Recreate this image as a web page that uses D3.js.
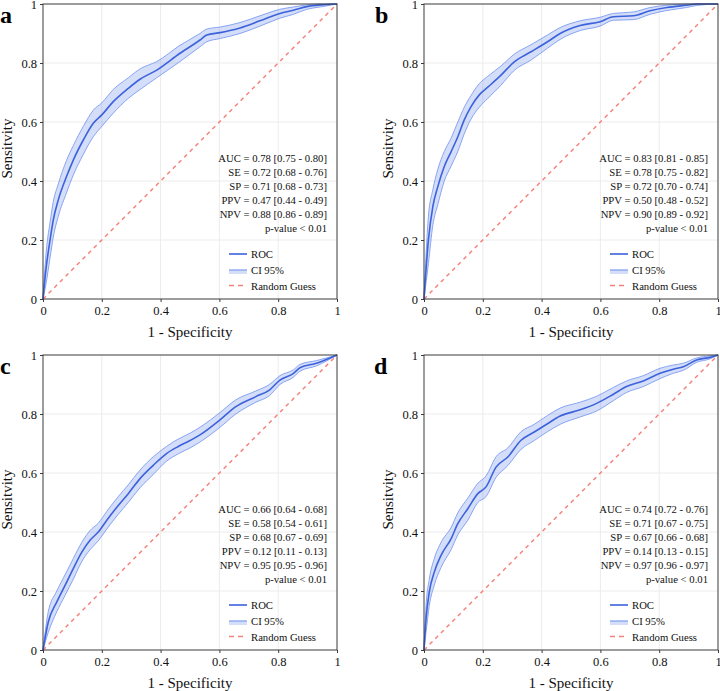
<!DOCTYPE html>
<html>
<head>
<meta charset="utf-8">
<script src="https://cdn.jsdelivr.net/npm/d3@7"></script>
<style>
  html, body { margin: 0; padding: 0; background: #fff; }
  svg, svg text { font-family: "Liberation Serif", "Times New Roman", Times, "DejaVu Serif", serif !important; }
</style>
</head>
<body>
<svg id="chart" width="720" height="691"></svg>
<script>
// ---------- DATA ----------
const panelLetters = ["a", "b", "c", "d"];
const tickValues = [0, 0.2, 0.4, 0.6, 0.8, 1];
const tickLabels = ["0", "0.2", "0.4", "0.6", "0.8", "1"];
const legendLabels = ["ROC", "CI 95%", "Random Guess"];
const xTitle = "1 - Specificity";
const yTitle = "Sensitvity";

// Panel a
const fprA = [0, 0.01, 0.024, 0.035, 0.052, 0.08, 0.103, 0.137, 0.171, 0.2, 0.239, 0.29, 0.33, 0.387, 0.466, 0.534, 0.557, 0.603, 0.67, 0.738, 0.806, 0.852, 0.897, 0.943, 1];
const tprA = [0, 0.1, 0.2, 0.268, 0.336, 0.415, 0.471, 0.539, 0.596, 0.624, 0.669, 0.714, 0.745, 0.776, 0.833, 0.878, 0.895, 0.903, 0.919, 0.943, 0.968, 0.979, 0.991, 0.997, 1];
const lowA = [0, 0.05, 0.14, 0.21, 0.28, 0.36, 0.42, 0.49, 0.55, 0.585, 0.63, 0.68, 0.71, 0.75, 0.805, 0.855, 0.872, 0.883, 0.9, 0.925, 0.952, 0.965, 0.982, 0.99, 1];
const upA = [0, 0.15, 0.26, 0.33, 0.39, 0.47, 0.52, 0.585, 0.64, 0.665, 0.71, 0.75, 0.78, 0.805, 0.86, 0.9, 0.915, 0.922, 0.937, 0.96, 0.982, 0.99, 0.997, 1, 1];
const statsA = ["AUC = 0.78 [0.75 - 0.80]", "SE = 0.72 [0.68 - 0.76]", "SP = 0.71 [0.68 - 0.73]", "PPV = 0.47 [0.44 - 0.49]", "NPV = 0.88 [0.86 - 0.89]", "p-value < 0.01"];

// Panel b
const fprB = [0, 0.015, 0.03, 0.047, 0.069, 0.092, 0.115, 0.137, 0.16, 0.188, 0.217, 0.262, 0.307, 0.364, 0.42, 0.463, 0.531, 0.599, 0.644, 0.712, 0.769, 0.826, 0.893, 0.927, 1];
const tprB = [0, 0.2, 0.313, 0.381, 0.449, 0.499, 0.55, 0.607, 0.652, 0.692, 0.718, 0.759, 0.804, 0.838, 0.872, 0.9, 0.927, 0.94, 0.957, 0.96, 0.977, 0.988, 0.996, 1, 1];
const lowB = [0, 0.12, 0.25, 0.32, 0.4, 0.45, 0.5, 0.56, 0.61, 0.65, 0.68, 0.725, 0.775, 0.81, 0.85, 0.88, 0.91, 0.925, 0.945, 0.947, 0.965, 0.978, 0.988, 0.995, 1];
const upB = [0, 0.28, 0.37, 0.44, 0.5, 0.545, 0.6, 0.65, 0.69, 0.73, 0.755, 0.79, 0.83, 0.862, 0.895, 0.92, 0.943, 0.955, 0.968, 0.973, 0.988, 0.996, 1, 1, 1];
const statsB = ["AUC = 0.83 [0.81 - 0.85]", "SE = 0.78 [0.75 - 0.82]", "SP = 0.72 [0.70 - 0.74]", "PPV = 0.50 [0.48 - 0.52]", "NPV = 0.90 [0.89 - 0.92]", "p-value < 0.01"];

// Panel c
const fprC = [0, 0.018, 0.047, 0.075, 0.103, 0.132, 0.16, 0.188, 0.217, 0.256, 0.29, 0.33, 0.375, 0.42, 0.46, 0.5, 0.534, 0.602, 0.656, 0.724, 0.77, 0.806, 0.852, 0.874, 0.93, 1];
const tprC = [0, 0.095, 0.163, 0.219, 0.276, 0.332, 0.372, 0.4, 0.44, 0.49, 0.53, 0.581, 0.626, 0.666, 0.69, 0.71, 0.729, 0.78, 0.825, 0.859, 0.881, 0.915, 0.938, 0.957, 0.972, 1];
const lowC = [0, 0.06, 0.13, 0.185, 0.24, 0.3, 0.34, 0.37, 0.41, 0.46, 0.5, 0.55, 0.595, 0.64, 0.665, 0.685, 0.705, 0.755, 0.8, 0.84, 0.862, 0.9, 0.925, 0.945, 0.963, 1];
const upC = [0, 0.13, 0.2, 0.255, 0.31, 0.365, 0.405, 0.43, 0.47, 0.52, 0.56, 0.61, 0.655, 0.69, 0.715, 0.735, 0.755, 0.805, 0.848, 0.878, 0.9, 0.93, 0.95, 0.968, 0.981, 1];
const statsC = ["AUC = 0.66 [0.64 - 0.68]", "SE = 0.58 [0.54 - 0.61]", "SP = 0.68 [0.67 - 0.69]", "PPV = 0.12 [0.11 - 0.13]", "NPV = 0.95 [0.95 - 0.96]", "p-value < 0.01"];

// Panel d
const fprD = [0, 0.007, 0.018, 0.035, 0.058, 0.092, 0.115, 0.149, 0.183, 0.211, 0.245, 0.285, 0.33, 0.375, 0.42, 0.463, 0.531, 0.587, 0.644, 0.689, 0.746, 0.803, 0.848, 0.882, 0.927, 0.973, 1];
const tprD = [0, 0.106, 0.197, 0.264, 0.321, 0.377, 0.428, 0.479, 0.53, 0.553, 0.62, 0.654, 0.711, 0.739, 0.767, 0.793, 0.814, 0.836, 0.867, 0.893, 0.912, 0.938, 0.952, 0.96, 0.983, 0.992, 1];
const lowD = [0, 0.06, 0.15, 0.22, 0.28, 0.34, 0.39, 0.44, 0.5, 0.52, 0.585, 0.625, 0.68, 0.71, 0.74, 0.765, 0.79, 0.81, 0.845, 0.873, 0.893, 0.92, 0.938, 0.948, 0.975, 0.987, 1];
const upD = [0, 0.15, 0.24, 0.31, 0.365, 0.415, 0.465, 0.515, 0.565, 0.59, 0.655, 0.685, 0.74, 0.765, 0.795, 0.82, 0.84, 0.86, 0.89, 0.912, 0.93, 0.955, 0.966, 0.972, 0.99, 0.997, 1];
const statsD = ["AUC = 0.74 [0.72 - 0.76]", "SE = 0.71 [0.67 - 0.75]", "SP = 0.67 [0.66 - 0.68]", "PPV = 0.14 [0.13 - 0.15]", "NPV = 0.97 [0.96 - 0.97]", "p-value < 0.01"];

// ---------- LAYOUT / STYLE ----------
const panels = [
  { letter: panelLetters[0], fpr: fprA, tpr: tprA, low: lowA, up: upA, stats: statsA, left: 43, top: 4, lx: 0 },
  { letter: panelLetters[1], fpr: fprB, tpr: tprB, low: lowB, up: upB, stats: statsB, left: 424, top: 4, lx: 375 },
  { letter: panelLetters[2], fpr: fprC, tpr: tprC, low: lowC, up: upC, stats: statsC, left: 43, top: 355, lx: 0 },
  { letter: panelLetters[3], fpr: fprD, tpr: tprD, low: lowD, up: upD, stats: statsD, left: 424, top: 355, lx: 374 }
];
const W = 294, H = 295;
const FONT = "'Liberation Serif', 'Times New Roman', Times, 'DejaVu Serif', serif";
const rocColor = "#3c62dc";
const bandFill = "rgba(65,105,225,0.22)";
const bandEdge = "#7d9cf0";
const guessColor = "#f4827c";
const gridColor = "#ececec";
const axisColor = "#3a3a3a";

const svg = d3.select("#chart").attr("font-family", FONT);

panels.forEach(p => {
  const x = d3.scaleLinear().domain([0, 1]).range([0, W]);
  const y = d3.scaleLinear().domain([0, 1]).range([H, 0]);
  const g = svg.append("g").attr("transform", `translate(${p.left},${p.top})`);

  // grid
  g.append("g").selectAll("line").data(tickValues.slice(1, -1)).join("line")
    .attr("x1", d => x(d)).attr("x2", d => x(d)).attr("y1", 0).attr("y2", H)
    .attr("stroke", gridColor).attr("stroke-width", 1);
  g.append("g").selectAll("line").data(tickValues.slice(1, -1)).join("line")
    .attr("y1", d => y(d)).attr("y2", d => y(d)).attr("x1", 0).attr("x2", W)
    .attr("stroke", gridColor).attr("stroke-width", 1);

  const pts = p.fpr.map((f, i) => ({ f, t: p.tpr[i], lo: p.low[i], hi: p.up[i] }));

  // random guess
  g.append("line")
    .attr("x1", x(0)).attr("y1", y(0)).attr("x2", x(1)).attr("y2", y(1))
    .attr("stroke", guessColor).attr("stroke-width", 1.5).attr("stroke-dasharray", "4,4");

  // CI band
  g.append("path").datum(pts)
    .attr("d", d3.area().curve(d3.curveMonotoneX).x(d => x(d.f)).y0(d => y(d.lo)).y1(d => y(d.hi)))
    .attr("fill", bandFill).attr("stroke", "none");
  g.append("path").datum(pts)
    .attr("d", d3.line().curve(d3.curveMonotoneX).x(d => x(d.f)).y(d => y(d.lo)))
    .attr("fill", "none").attr("stroke", bandEdge).attr("stroke-width", 0.9);
  g.append("path").datum(pts)
    .attr("d", d3.line().curve(d3.curveMonotoneX).x(d => x(d.f)).y(d => y(d.hi)))
    .attr("fill", "none").attr("stroke", bandEdge).attr("stroke-width", 0.9);

  // ROC
  g.append("path").datum(pts)
    .attr("d", d3.line().curve(d3.curveMonotoneX).x(d => x(d.f)).y(d => y(d.t)))
    .attr("fill", "none").attr("stroke", rocColor).attr("stroke-width", 1.6);

  // frame
  g.append("rect").attr("x", 0).attr("y", 0).attr("width", W).attr("height", H)
    .attr("fill", "none").attr("stroke", axisColor).attr("stroke-width", 1);

  // axes
  const xa = g.append("g").attr("transform", `translate(0,${H})`)
    .call(d3.axisBottom(x).tickValues(tickValues).tickFormat((d, i) => tickLabels[i]).tickSize(3).tickPadding(4));
  const ya = g.append("g")
    .call(d3.axisLeft(y).tickValues(tickValues).tickFormat((d, i) => tickLabels[i]).tickSize(3).tickPadding(3));
  [xa, ya].forEach(a => {
    a.attr("font-family", FONT).attr("font-size", 12.5);
    a.select(".domain").remove();
    a.selectAll("line").attr("stroke", axisColor);
    a.selectAll("text").style("font-family", FONT).attr("fill", "#111");
  });

  // axis titles
  g.append("text").attr("x", W / 2).attr("y", H + 38).attr("text-anchor", "middle")
    .style("font-family", FONT).attr("font-size", 15).attr("fill", "#111").text(xTitle);
  g.append("text").attr("transform", `translate(-31,${H / 2 - 3}) rotate(-90)`).attr("text-anchor", "middle")
    .style("font-family", FONT).attr("font-size", 15).attr("fill", "#111").text(yTitle);

  // stats
  g.append("g").selectAll("text").data(p.stats).join("text")
    .attr("x", W - 10).attr("y", (d, i) => 157.5 + i * 14)
    .attr("text-anchor", "end").style("font-family", FONT).attr("font-size", 10.7).attr("fill", "#111").text(d => d);

  // legend
  const lg = g.append("g").attr("transform", `translate(${W - 108},250)`);
  lg.append("line").attr("x1", 0).attr("x2", 18).attr("y1", 0).attr("y2", 0)
    .attr("stroke", rocColor).attr("stroke-width", 1.6);
  lg.append("rect").attr("x", 0).attr("y", 16).attr("width", 18).attr("height", 4).attr("fill", bandFill);
  lg.append("line").attr("x1", 0).attr("x2", 18).attr("y1", 16).attr("y2", 16)
    .attr("stroke", bandEdge).attr("stroke-width", 1.2);
  lg.append("line").attr("x1", 0).attr("x2", 18).attr("y1", 31.5).attr("y2", 31.5)
    .attr("stroke", guessColor).attr("stroke-width", 1.5).attr("stroke-dasharray", "5,4");
  lg.selectAll("text").data(legendLabels).join("text")
    .attr("x", 22).attr("y", (d, i) => [0, 16, 31.5][i] + 4)
    .style("font-family", FONT).attr("font-size", 10.7).attr("fill", "#111").text(d => d);

  // panel letter
  svg.append("text").attr("x", p.lx).attr("y", p.top + 19)
    .style("font-family", FONT).attr("font-size", 24).attr("font-weight", "bold").attr("fill", "#000").text(p.letter);
});
</script>
</body>
</html>
